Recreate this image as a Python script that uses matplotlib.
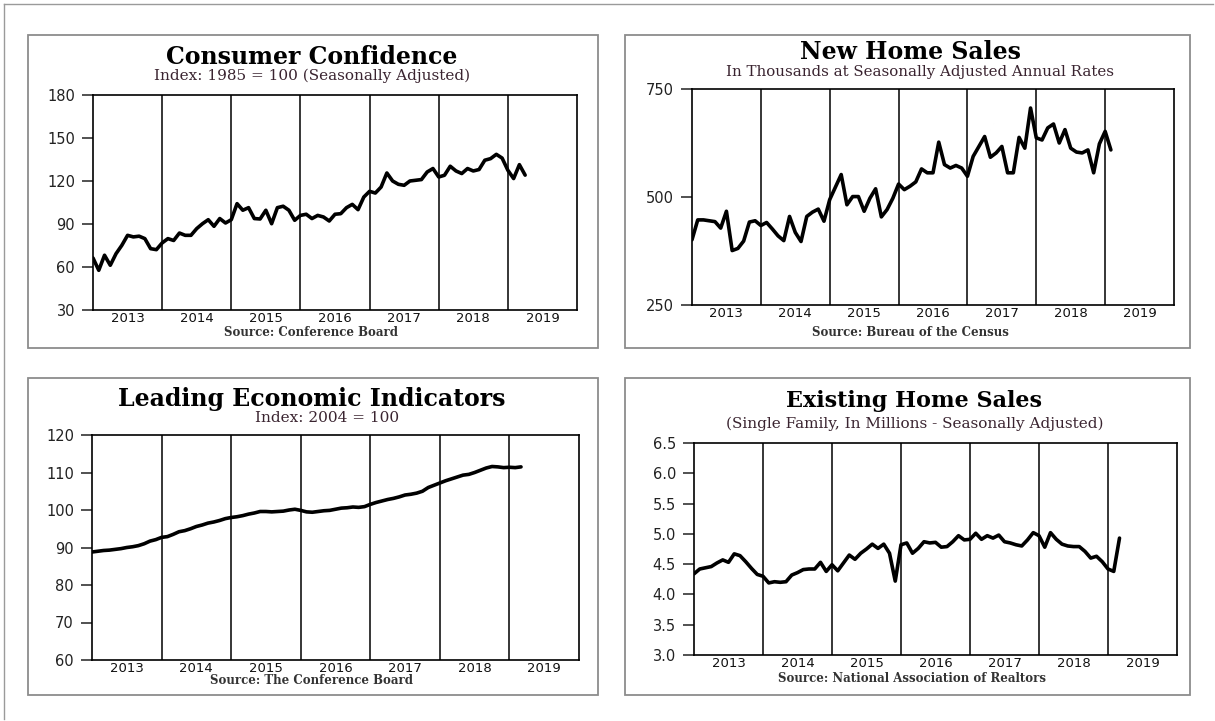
import numpy as np
import matplotlib.pyplot as plt
from matplotlib.patches import Rectangle
from matplotlib.lines import Line2D

# monthly values, Dec 2012 first, plotted at month end
years = ['2013', '2014', '2015', '2016', '2017', '2018', '2019']

consumer_conf = [66.3,
                 57.7, 68.2, 61.2, 69.3, 75.1, 82.1, 81.0, 81.5, 79.8, 72.8, 72.1, 76.8,
                 79.8, 78.5, 83.7, 82.1, 82.1, 86.8, 90.2, 93.0, 88.4, 93.8, 90.7, 93.0,
                 104.2, 99.6, 101.4, 93.8, 93.5, 99.6, 90.2, 101.4, 102.4, 99.6, 92.6, 96.0,
                 96.8, 93.8, 96.0, 94.9, 92.1, 96.8, 97.2, 101.4, 103.7, 100.0, 108.8, 112.8,
                 111.6, 115.8, 125.6, 120.0, 117.7, 117.0, 120.0, 120.5, 121.0, 126.3, 128.7, 122.8,
                 124.0, 130.3, 127.0, 125.2, 128.7, 127.0, 128.0, 134.5, 135.6, 138.6, 136.0, 127.5,
                 121.7, 131.4, 124.1]

new_home_sales = [401,
                  447, 447, 445, 443, 428, 467, 376, 381, 398, 442, 445, 434,
                  441, 426, 410, 399, 455, 418, 397, 455, 465, 472, 444, 494,
                  523, 552, 482, 501, 501, 467, 497, 519, 454, 471, 497, 530,
                  517, 525, 535, 565, 556, 556, 627, 575, 567, 573, 567, 548,
                  594, 617, 640, 592, 602, 617, 556, 556, 638, 613, 706, 637,
                  632, 660, 669, 625, 656, 613, 604, 602, 609, 556, 623, 652,
                  609]

leading_ind = [88.8,
               89.0, 89.2, 89.3, 89.5, 89.7, 90.0, 90.2, 90.5, 91.0, 91.7, 92.1, 92.7,
               92.9, 93.5, 94.2, 94.5, 95.0, 95.6, 96.0, 96.5, 96.8, 97.2, 97.7, 98.0,
               98.2, 98.5, 98.9, 99.2, 99.6, 99.6, 99.5, 99.6, 99.7, 100.0, 100.2, 99.9,
               99.5, 99.4, 99.6, 99.8, 99.9, 100.2, 100.5, 100.6, 100.8, 100.7, 100.9, 101.5,
               102.0, 102.4, 102.8, 103.1, 103.5, 104.0, 104.2, 104.5, 105.0, 106.0, 106.6, 107.2,
               107.8, 108.3, 108.8, 109.3, 109.5, 110.0, 110.6, 111.2, 111.6, 111.5, 111.3, 111.4,
               111.3, 111.5]

existing_sales = [4.34,
                  4.42, 4.44, 4.46, 4.52, 4.57, 4.53, 4.67, 4.64, 4.54, 4.43, 4.33, 4.30,
                  4.19, 4.21, 4.20, 4.21, 4.32, 4.36, 4.41, 4.42, 4.42, 4.53, 4.38, 4.49,
                  4.39, 4.52, 4.65, 4.58, 4.68, 4.75, 4.83, 4.76, 4.83, 4.68, 4.22, 4.82,
                  4.85, 4.68, 4.76, 4.87, 4.85, 4.86, 4.78, 4.79, 4.87, 4.97, 4.90, 4.91,
                  5.01, 4.91, 4.97, 4.93, 4.98, 4.87, 4.85, 4.82, 4.80, 4.90, 5.02, 4.97,
                  4.78, 5.02, 4.91, 4.83, 4.80, 4.79, 4.79, 4.71, 4.60, 4.63, 4.54, 4.42,
                  4.38, 4.93]

cc_ticks = [30, 60, 90, 120, 150, 180]
nhs_ticks = [250, 500, 750]
lei_ticks = [60, 70, 80, 90, 100, 110, 120]
ehs_ticks = [3.0, 3.5, 4.0, 4.5, 5.0, 5.5, 6.0, 6.5]

W, H = 1215, 721
SERIF = 'DejaVu Serif'
SANS = 'DejaVu Sans'


def fx(x):
    return x / W


def fy(y):
    return 1 - y / H


def add_axes(fig, left, top, right, bottom):
    return fig.add_axes([fx(left), fy(bottom), (right - left) / W, (bottom - top) / H])


def draw_panel(ax, values, ticks, labels):
    x = 2013 + np.arange(len(values)) / 12
    ax.plot(x, values, color='black', lw=2.6, solid_capstyle='round')
    for yr in range(2014, 2020):
        ax.axvline(yr, color='black', lw=1.1)
    ax.set_xlim(2013, 2020)
    ax.set_ylim(ticks[0], ticks[-1])
    ax.set_xticks(np.arange(2013.5, 2020), years)
    ax.tick_params(axis='x', length=0, pad=1.5, labelsize=9.5, colors='#111111')
    ax.set_yticks(ticks, labels)
    ax.tick_params(axis='y', length=8, width=1.1, pad=5, labelsize=10.5, colors='#222222')
    for lab in ax.get_xticklabels() + ax.get_yticklabels():
        lab.set_fontfamily(SANS)
    for sp in ax.spines.values():
        sp.set_linewidth(1.2)


def panel_text(fig, cx, title, ty, sub, sy, sub_size=11, sub_x=None, title_size=17):
    fig.text(fx(cx), fy(ty), title, ha='center', va='center', fontsize=title_size,
             fontweight='bold', family=SERIF)
    fig.text(fx(sub_x if sub_x else cx), fy(sy), sub, ha='center', va='center',
             fontsize=sub_size, family=SERIF, color='#3a2430')


def source_text(fig, cx, sy, text):
    fig.text(fx(cx), fy(sy), text, ha='center', va='center', fontsize=8.5,
             fontweight='bold', family=SERIF, color='#333333')


fig = plt.figure(figsize=(W / 100, H / 100), dpi=100)

# panel frames and page border
for (x0, y0, x1, y1) in [(28, 35, 598, 348), (625, 35, 1190, 348),
                         (28, 378, 598, 695), (625, 378, 1190, 695)]:
    fig.add_artist(Rectangle((fx(x0), fy(y1)), (x1 - x0) / W, (y1 - y0) / H,
                             transform=fig.transFigure, fill=False, ec='#8c8c8c', lw=1.3))
fig.add_artist(Line2D([fx(4), fx(1213)], [fy(4), fy(4)], transform=fig.transFigure,
                      color='#9a9a9a', lw=1.0))
fig.add_artist(Line2D([fx(4), fx(4)], [fy(4), fy(719)], transform=fig.transFigure,
                      color='#9a9a9a', lw=1.0))

ax1 = add_axes(fig, 93, 95, 577, 310)
draw_panel(ax1, consumer_conf, cc_ticks, [str(t) for t in cc_ticks])
panel_text(fig, 312, 'Consumer Confidence', 57, 'Index: 1985 = 100 (Seasonally Adjusted)', 76)
source_text(fig, 311, 332, 'Source: Conference Board')

ax2 = add_axes(fig, 692, 89, 1174, 305)
draw_panel(ax2, new_home_sales, nhs_ticks, [str(t) for t in nhs_ticks])
panel_text(fig, 911, 'New Home Sales', 52,
           'In Thousands at Seasonally Adjusted Annual Rates', 72, sub_size=10.8, sub_x=920)
source_text(fig, 910, 333, 'Source: Bureau of the Census')

ax3 = add_axes(fig, 92, 435, 579, 660)
draw_panel(ax3, leading_ind, lei_ticks, [str(t) for t in lei_ticks])
panel_text(fig, 312, 'Leading Economic Indicators', 399, 'Index: 2004 = 100', 418, sub_x=327)
source_text(fig, 312, 680, 'Source: The Conference Board')

ax4 = add_axes(fig, 694, 443, 1177, 655)
draw_panel(ax4, existing_sales, ehs_ticks, [f'{t:.1f}' for t in ehs_ticks])
panel_text(fig, 914, 'Existing Home Sales', 401,
           '(Single Family, In Millions - Seasonally Adjusted)', 424, sub_size=11, sub_x=915,
           title_size=16)
source_text(fig, 912, 679, 'Source: National Association of Realtors')

fig.savefig('out.png', dpi=100)
